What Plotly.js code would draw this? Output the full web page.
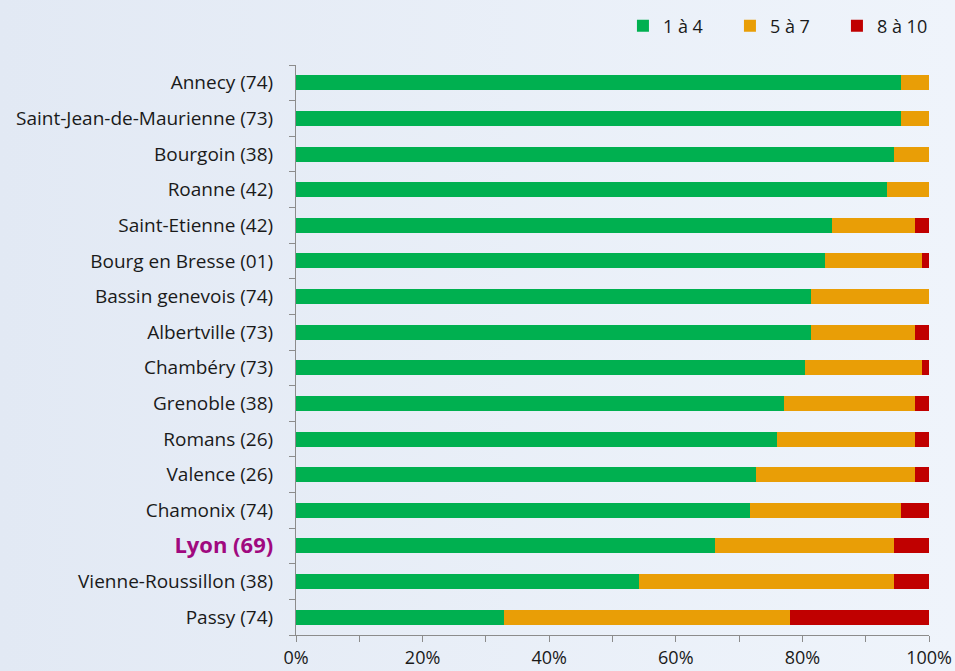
<!DOCTYPE html>
<html>
<head>
<meta charset="utf-8">
<script src="https://cdn.plot.ly/plotly-3.0.1.min.js"></script>
<style>
html,body{margin:0;padding:0;}
body{width:955px;height:671px;background:linear-gradient(to right,#e2e9f4,#eff4fb);}
#chart{width:955px;height:671px;}
</style>
</head>
<body>
<div id="chart"></div>
<script>
const categories = [
  "Annecy (74)", "Saint-Jean-de-Maurienne (73)", "Bourgoin (38)", "Roanne (42)",
  "Saint-Etienne (42)", "Bourg en Bresse (01)", "Bassin genevois (74)", "Albertville (73)",
  "Chambéry (73)", "Grenoble (38)", "Romans (26)", "Valence (26)", "Chamonix (74)",
  "Lyon (69)", "Vienne-Roussillon (38)", "Passy (74)"
];
const s1a4 = [95.6, 95.6, 94.5, 93.4, 84.7, 83.6, 81.4, 81.4, 80.4, 77.1, 76.0, 72.7, 71.7, 66.2, 54.2, 32.9];
const s5a7 = [4.4, 4.4, 5.5, 6.6, 13.1, 15.3, 18.6, 16.4, 18.5, 20.7, 21.8, 25.1, 23.9, 28.3, 40.3, 45.1];
const s8a10 = [0, 0, 0, 0, 2.2, 1.1, 0, 2.2, 1.1, 2.2, 2.2, 2.2, 4.4, 5.5, 5.5, 22.0];
const seriesNames = ["1 à 4", "5 à 7", "8 à 10"];
const xTickVals = [0, 20, 40, 60, 80, 100];
const highlight = "Lyon (69)";

const colors = ["#00b050", "#e99e06", "#c00000"];
const tickText = categories.map(c => c === highlight
  ? '<span style="font-size:22px;color:#a0097f"><b>' + c + '</b></span>'
  : c);

const traces = [s1a4, s5a7, s8a10].map((vals, i) => ({
  type: 'bar',
  orientation: 'h',
  name: seriesNames[i],
  y: categories,
  x: vals,
  marker: {color: colors[i], line: {width: 0}},
  hoverinfo: 'skip'
}));

const layout = {
  width: 955, height: 671,
  paper_bgcolor: 'rgba(0,0,0,0)',
  plot_bgcolor: 'rgba(0,0,0,0)',
  margin: {l: 296, r: 26, t: 65, b: 36, pad: 0},
  barmode: 'stack',
  bargap: 0.58,
  font: {family: '"Open Sans", sans-serif', size: 17, color: '#1a1a1a'},
  showlegend: true,
  legend: {
    orientation: 'h', xref: 'container', yref: 'container',
    x: 0.6523, xanchor: 'left', y: 0.9613, yanchor: 'middle',
    font: {size: 18, color: '#1a1a1a'}, traceorder: 'normal',
    itemwidth: 30, entrywidth: 62, entrywidthmode: 'pixels',
    bgcolor: 'rgba(0,0,0,0)'
  },
  xaxis: {
    range: [0, 100],
    tickvals: xTickVals,
    ticktext: xTickVals.map(v => v + '%'),
    ticks: 'outside', ticklen: 6, tickcolor: '#8c8c8c',
    showgrid: false, zeroline: false,
    showline: true, linecolor: '#8c8c8c', linewidth: 1,
    minor: {dtick: 10, ticks: 'outside', ticklen: 6, tickcolor: '#8c8c8c', showgrid: false},
    tickfont: {size: 18, color: '#1a1a1a'},
    fixedrange: true
  },
  yaxis: {
    type: 'category',
    autorange: 'reversed',
    tickvals: categories,
    ticktext: tickText,
    tickson: 'boundaries',
    ticks: 'outside', ticklen: 6, tickcolor: '#8c8c8c',
    ticklabelstandoff: 18,
    showgrid: false, zeroline: false,
    showline: true, linecolor: '#8c8c8c', linewidth: 1,
    tickfont: {size: 19, color: '#1a1a1a'},
    fixedrange: true
  }
};

Plotly.newPlot('chart', traces, layout, {displayModeBar: false, staticPlot: true});
</script>
</body>
</html>
